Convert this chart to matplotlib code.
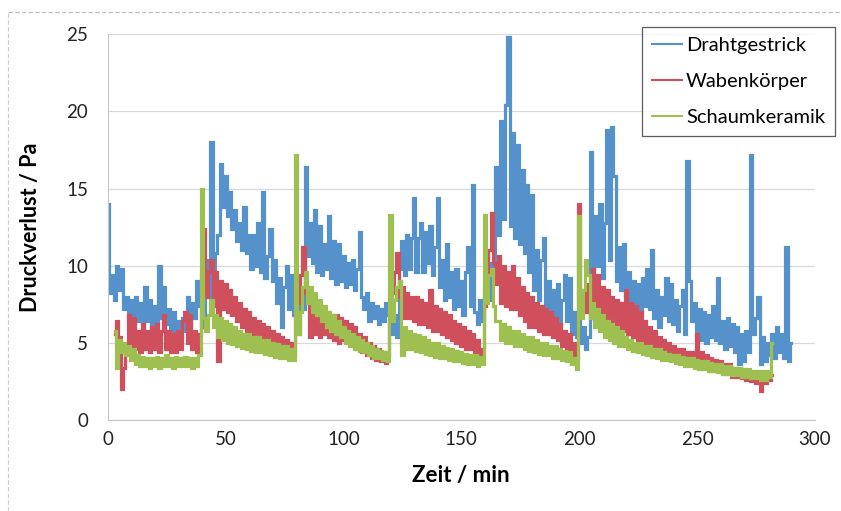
import numpy as np
import matplotlib
matplotlib.use("Agg")
import matplotlib.pyplot as plt
from matplotlib.lines import Line2D

plt.rcParams['font.family'] = ['Lato', 'DejaVu Sans']

# Messwerte Druckverlust in Pa, ein Wert je Minute
draht_start = 0
drahtgestrick = [
    14.0, 8.2, 9.4, 7.8, 10.0, 8.4, 9.8, 7.2, 8.0, 6.6,
    7.8, 6.2, 8.0, 6.4, 7.6, 6.2, 8.6, 6.4, 7.8, 6.0,
    7.4, 6.4, 10.0, 6.6, 8.6, 6.2, 7.2, 5.8, 7.0, 5.6,
    6.4, 5.4, 6.6, 5.8, 8.0, 6.0, 7.6, 6.6, 9.0, 7.4,
    9.6, 6.0, 10.4, 8.0, 18.0, 9.4, 10.8, 12.0, 16.6, 13.8,
    15.8, 13.2, 14.8, 12.4, 13.6, 11.6, 12.8, 11.0, 13.8, 10.8,
    12.0, 9.8, 12.0, 10.0, 12.8, 9.6, 14.8, 9.2, 10.6, 12.4,
    9.0, 10.4, 7.6, 9.2, 6.0, 8.6, 10.0, 7.2, 9.4, 6.8,
    9.0, 5.6, 8.0, 7.2, 16.4, 10.6, 12.8, 10.2, 13.6, 9.6,
    12.6, 9.4, 11.4, 9.8, 13.2, 9.2, 11.6, 8.8, 11.4, 9.0,
    10.6, 8.6, 10.2, 8.8, 10.4, 8.4, 9.8, 12.2, 8.0, 7.2,
    8.2, 6.4, 7.6, 6.6, 7.4, 6.2, 7.2, 6.4, 7.6, 6.8,
    7.4, 5.6, 6.8, 5.4, 9.8, 11.6, 9.4, 12.0, 9.8, 11.8,
    14.4, 9.6, 11.8, 12.8, 9.6, 12.2, 10.2, 12.6, 9.4, 11.2,
    14.4, 8.6, 10.4, 7.8, 11.4, 8.0, 9.6, 7.2, 9.8, 7.4,
    9.0, 6.8, 9.6, 11.2, 7.4, 15.2, 7.0, 6.2, 7.8, 6.4,
    8.4, 10.8, 7.8, 10.2, 9.0, 16.4, 12.0, 19.4, 13.0, 20.4,
    24.8, 12.6, 18.6, 11.8, 17.8, 11.4, 16.2, 10.8, 15.2, 9.6,
    14.6, 8.4, 11.0, 7.8, 10.4, 11.8, 7.4, 9.0, 6.6, 8.4,
    6.4, 8.8, 6.2, 7.8, 9.4, 6.4, 9.2, 5.6, 7.0, 5.4,
    6.4, 5.0, 6.0, 4.6, 5.4, 17.4, 9.6, 13.2, 10.0, 14.0,
    9.2, 12.8, 18.8, 10.4, 19.0, 15.8, 9.0, 11.2, 8.4, 11.4,
    8.0, 9.6, 7.6, 9.0, 7.2, 8.8, 6.8, 9.2, 7.4, 9.8,
    7.2, 11.0, 6.6, 8.4, 6.0, 8.0, 6.8, 9.2, 6.4, 8.8,
    6.2, 7.8, 5.8, 7.4, 8.4, 5.6, 16.8, 9.0, 6.4, 7.6,
    5.4, 7.2, 5.2, 7.0, 5.0, 6.8, 5.4, 7.4, 5.2, 9.2,
    5.0, 6.4, 4.6, 6.6, 4.8, 6.2, 4.4, 6.0, 3.6, 5.6,
    3.8, 5.8, 4.4, 17.2, 5.6, 6.6, 8.0, 3.6, 5.4, 3.8,
    5.0, 4.2, 5.6, 4.0, 6.0, 4.4, 5.6, 4.0, 11.2, 3.8,
    5.0,
]

waben_start = 3
wabenkoerper = [
    5.6, 6.4, 5.4, 2.0, 3.4, 4.4, 6.8,
    4.8, 6.6, 4.6, 5.8, 4.4, 6.2, 4.6, 5.8, 4.4, 6.0,
    4.6, 6.2, 4.4, 5.8, 6.8, 4.6, 5.8, 4.4, 5.6, 4.4,
    5.8, 4.6, 6.4, 7.0, 5.0, 6.8, 4.6, 5.8, 4.4, 5.6,
    8.4, 12.4, 8.0, 9.6, 10.4, 7.4, 9.6, 3.8, 9.0, 7.2,
    8.8, 7.0, 8.4, 6.8, 8.0, 6.4, 7.6, 6.0, 7.2, 5.8,
    7.0, 5.6, 6.6, 5.4, 6.4, 5.2, 6.2, 5.0, 6.0, 4.8,
    5.8, 4.6, 5.6, 4.4, 5.4, 4.4, 5.2, 4.2, 5.0, 4.2,
    8.6, 7.6, 9.4, 11.2, 8.2, 7.8, 5.4, 7.6, 5.6, 7.4,
    5.4, 7.2, 5.6, 7.0, 5.4, 6.8, 5.2, 6.8, 5.0, 6.6,
    5.2, 6.4, 5.0, 6.2, 4.8, 6.0, 4.6, 5.6, 4.4, 5.4,
    4.2, 5.0, 4.0, 4.8, 3.9, 4.6, 3.8, 4.4, 3.7, 4.2,
    6.4, 8.2, 9.6, 10.8, 8.0, 8.6, 6.6, 8.2, 6.6, 8.0,
    6.4, 8.0, 6.2, 7.8, 6.2, 7.6, 6.0, 8.4, 5.8, 7.4,
    5.8, 7.2, 5.6, 7.0, 5.4, 6.8, 5.2, 6.4, 5.0, 6.2,
    4.8, 6.0, 4.6, 5.8, 4.6, 5.6, 4.4, 5.2, 4.0, 4.6,
    7.4, 9.6, 11.0, 13.4, 10.2, 8.8, 10.6, 7.6, 10.0, 7.4,
    9.6, 7.2, 10.0, 7.2, 9.2, 6.8, 8.6, 6.4, 8.2, 6.0,
    8.0, 6.0, 7.6, 5.8, 7.4, 5.6, 7.2, 5.6, 7.0, 5.4,
    6.6, 5.2, 6.2, 4.8, 5.8, 4.6, 5.6, 4.2, 5.0, 4.0,
    14.0, 6.8, 8.4, 7.0, 8.8, 6.6, 9.8, 7.0, 9.4, 6.8,
    8.6, 6.4, 8.4, 6.2, 8.0, 6.0, 7.8, 5.8, 7.6, 5.8,
    8.4, 5.6, 7.6, 5.4, 7.4, 5.2, 7.0, 4.8, 6.4, 4.8,
    6.0, 4.6, 5.8, 4.4, 5.4, 4.2, 5.2, 4.0, 5.0, 4.0,
    4.8, 3.8, 4.6, 3.8, 4.6, 3.7, 4.4, 3.6, 4.4, 3.6,
    5.6, 3.6, 4.4, 3.4, 4.2, 3.4, 4.0, 3.2, 3.9, 3.2,
    3.8, 3.0, 3.6, 3.0, 3.6, 2.8, 3.4, 2.8, 3.4, 2.7,
    3.2, 2.6, 3.2, 2.5, 3.0, 2.4, 2.8, 1.9, 3.0, 2.4,
    3.0, 2.6, 2.9,
]

schaum_start = 3
schaumkeramik = [
    5.8, 3.4, 5.2, 4.4, 5.0, 4.2, 4.8,
    3.9, 4.6, 3.6, 4.2, 3.5, 4.1, 3.5, 4.0, 3.4, 4.0,
    3.5, 4.1, 3.4, 4.0, 3.5, 4.2, 3.5, 4.0, 3.4, 4.1,
    3.5, 4.0, 3.5, 4.1, 3.5, 4.0, 3.4, 4.0, 3.5, 4.2,
    15.0, 6.6, 5.8, 6.8, 7.8, 6.0, 6.8, 5.4, 6.6, 5.2,
    6.4, 5.0, 6.2, 4.9, 6.0, 4.8, 5.8, 4.7, 5.6, 4.6,
    5.6, 4.5, 5.4, 4.4, 5.4, 4.4, 5.2, 4.3, 5.2, 4.2,
    5.0, 4.1, 4.9, 4.0, 4.8, 4.0, 4.8, 3.9, 4.6, 3.9,
    17.2, 5.6, 7.0, 8.6, 9.6, 7.6, 8.6, 7.0, 8.2, 6.8,
    7.8, 6.4, 7.4, 6.0, 7.0, 5.8, 6.8, 5.6, 6.4, 5.4,
    6.0, 5.0, 5.8, 4.8, 5.6, 4.6, 5.4, 4.5, 5.2, 4.4,
    5.0, 4.2, 4.8, 4.0, 4.6, 4.0, 4.5, 3.9, 4.4, 3.8,
    13.3, 6.4, 7.8, 8.6, 9.0, 4.2, 6.0, 4.6, 5.8, 4.6,
    5.6, 4.5, 5.5, 4.4, 5.4, 4.3, 5.2, 4.2, 5.0, 4.1,
    5.0, 4.0, 4.8, 4.0, 4.7, 3.9, 4.6, 3.8, 4.5, 3.8,
    4.4, 3.7, 4.3, 3.6, 4.2, 3.6, 4.2, 3.5, 4.1, 3.6,
    13.3, 7.6, 9.4, 9.8, 7.4, 6.4, 6.4, 5.2, 6.2, 5.0,
    6.0, 5.0, 5.8, 4.8, 5.8, 4.8, 5.6, 4.6, 5.4, 4.5,
    5.4, 4.4, 5.2, 4.3, 5.0, 4.2, 5.0, 4.2, 4.8, 4.0,
    4.8, 4.0, 4.6, 3.9, 4.5, 3.8, 4.4, 3.6, 4.0, 3.3,
    13.2, 6.6, 8.4, 10.4, 9.4, 6.6, 7.6, 6.0, 7.2, 5.8,
    6.8, 5.4, 6.4, 5.2, 6.2, 5.0, 6.0, 4.8, 5.8, 4.8,
    5.4, 4.6, 5.2, 4.5, 5.0, 4.4, 5.0, 4.3, 4.8, 4.2,
    4.8, 4.1, 4.6, 4.0, 4.6, 3.9, 4.4, 3.9, 4.3, 3.8,
    4.2, 3.7, 4.2, 3.6, 4.1, 3.5, 4.0, 3.5, 4.0, 3.4,
    3.9, 3.3, 3.8, 3.3, 3.8, 3.2, 3.7, 3.2, 3.6, 3.1,
    3.6, 3.0, 3.5, 3.0, 3.5, 2.9, 3.4, 2.9, 3.4, 2.8,
    3.3, 2.8, 3.3, 2.7, 3.2, 2.7, 3.2, 2.6, 3.2, 2.6,
    3.2, 2.8, 5.0,
]

series = [
    ("Drahtgestrick", draht_start, drahtgestrick, "#5592CB"),
    ("Wabenkörper", waben_start, wabenkoerper, "#CF4F5C"),
    ("Schaumkeramik", schaum_start, schaumkeramik, "#9EC051"),
]

fig = plt.figure(figsize=(8.41, 5.11), dpi=100)
ax = fig.add_axes([0.128, 0.178, 0.841, 0.755])

handles = []
for name, start, vals, col in series:
    t = start + np.arange(len(vals))
    ax.step(t, vals, where='mid', color=col, lw=2.3, solid_joinstyle='miter')
    handles.append(Line2D([], [], color=col, lw=1.5, label=name))

ax.set_xlim(0, 300)
ax.set_ylim(0, 25)
ax.set_xticks(range(0, 301, 50))
ax.set_yticks(range(0, 26, 5))
ax.grid(axis='y', color='#d9d9d9', lw=0.9)
ax.set_axisbelow(True)
for s in ['top', 'right']:
    ax.spines[s].set_visible(False)
for s in ['left', 'bottom']:
    ax.spines[s].set_color('#c8c8c8')
ax.tick_params(axis='both', length=0, labelsize=13.5, colors='#222222')
ax.tick_params(axis='y', pad=14)
ax.tick_params(axis='x', pad=8)

ax.set_xlabel("Zeit / min", fontsize=16, fontweight='bold', labelpad=12)
ax.set_ylabel("Druckverlust / Pa", fontsize=15.5, fontweight='bold', labelpad=18)

leg = ax.legend(handles=handles, loc='upper right', bbox_to_anchor=(0.993, 0.948),
                bbox_transform=fig.transFigure, fontsize=14.5, frameon=True, fancybox=False,
                handlelength=1.5, handletextpad=0.2, borderpad=0.5, labelspacing=0.95,
                borderaxespad=0)
leg.get_frame().set_edgecolor('#333333')
leg.get_frame().set_linewidth(0.9)

# Rand des Blattes
fig.add_artist(Line2D([0.01, 1.0], [0.977, 0.977], color='#bbbbbb', lw=0.8, ls=(0, (4, 2))))
fig.add_artist(Line2D([0.01, 0.01], [0.0, 0.977], color='#cccccc', lw=0.8, ls=(0, (4, 2))))

fig.savefig("out.png", dpi=100)
